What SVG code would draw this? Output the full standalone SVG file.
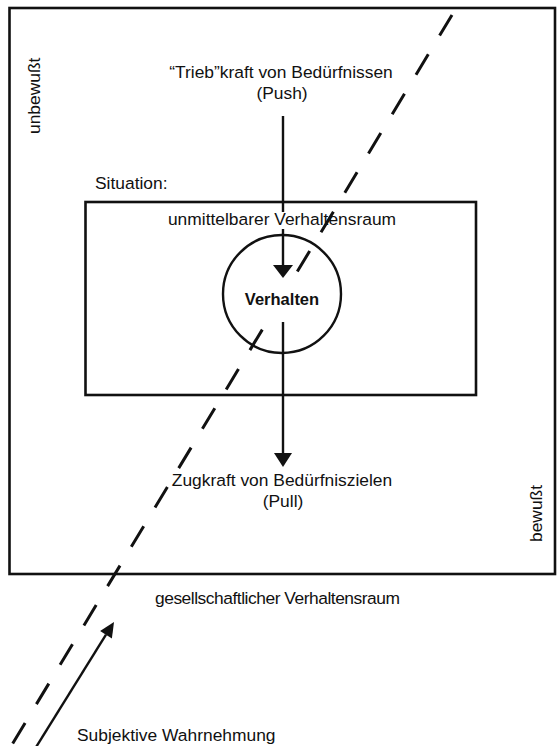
<svg xmlns="http://www.w3.org/2000/svg" width="557" height="746" viewBox="0 0 557 746">
<style>
.t{font-family:"Liberation Sans",Arial,sans-serif;font-size:17.4px;fill:#111}
.b{font-weight:bold;font-size:16.5px}
.box{fill:none;stroke:#111;stroke-width:2.6}
.ln{fill:none;stroke:#111;stroke-width:2.4}
.dash{fill:none;stroke:#111;stroke-width:3;stroke-linecap:butt}
.head{fill:#111;stroke:none}
</style>
<rect width="557" height="746" fill="#fff"/>
<g id="outer">
<rect class="box" x="9.5" y="8" width="545.5" height="566"/>
<text class="t" transform="translate(40,134) rotate(-90)">unbewußt</text>
<text class="t" transform="translate(542,542) rotate(-90)">bewußt</text>
<text class="t" x="155" y="604" textLength="245">gesellschaftlicher Verhaltensraum</text>
</g>
<g id="situation">
<text class="t" x="95" y="189">Situation:</text>
<rect class="box" x="85.5" y="202" width="390.5" height="193"/>
<text class="t" x="282" y="225" text-anchor="middle">unmittelbarer Verhaltensraum</text>
</g>
<g id="verhalten">
<circle class="ln" cx="282" cy="294" r="59"/>
<text class="t b" x="282" y="305" text-anchor="middle">Verhalten</text>
</g>
<g id="push">
<text class="t" x="281" y="78" text-anchor="middle">“Trieb”kraft von Bedürfnissen</text>
<text class="t" x="282" y="99" text-anchor="middle">(Push)</text>
</g>
<g id="pull">
<text class="t" x="282" y="486" text-anchor="middle">Zugkraft von Bedürfniszielen</text>
<text class="t" x="283" y="507" text-anchor="middle">(Pull)</text>
</g>
<g id="wahrnehmung">
<text class="t" x="77" y="741">Subjektive Wahrnehmung</text>
</g>
<g id="connectors">
<path class="ln" d="M283,116 L283,212 M283,229 L283,266"/>
<path class="head" d="M273,265 L293,265 L283,278 Z"/>
<path class="ln" d="M283,322 L283,455"/>
<path class="head" d="M274,453 L292,453 L283,467 Z"/>
<path class="ln" d="M33,752 L106,634.7"/>
<path class="head" d="M114,622 L111.9,638.4 L100.1,631 Z"/>
<path class="dash" d="M452,15 L439.6,35.5 M428.3,54.3 L416,74.8 M404.5,93.7 L392.2,114.2 M380.8,133 L368.5,153.5 M357.1,172.3 L344.8,192.8 M333.4,211.7 L321,232.2 M309.7,251 L297.3,271.5 M262.3,329.6 L249.9,350.1 M238.5,369 L226.2,389.5 M214.8,408.3 L202.4,428.8 M191.1,447.6 L178.7,468.1 M167.4,487 L155,507.5 M143.7,526.3 L131.3,546.8 M120,565.6 L107.6,586.1 M96.2,605 L83.9,625.5 M72.5,644.3 L60.1,664.8 M48.8,683.6 L36.4,704.1 M25.1,723 L12.7,743.5"/>
</g>
</svg>
